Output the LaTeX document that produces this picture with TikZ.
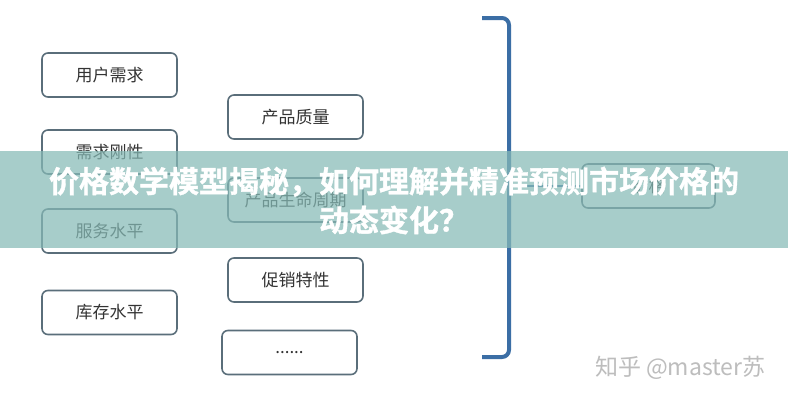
\documentclass[tikz,border=0pt]{standalone}
\usepackage{fontspec}
\newfontfamily\cjk{Noto Sans CJK SC}[BoldFont={Noto Sans CJK SC Bold}]
\newfontfamily\cjkheavy{Noto Sans CJK SC Bold}[FakeBold=1.2]
\definecolor{boxline}{HTML}{5A6E7A}
\definecolor{boxtext}{HTML}{333333}
\definecolor{brk}{HTML}{3B6EA5}
\definecolor{band}{RGB}{134,186,182}
\definecolor{wm}{HTML}{BDBDBD}
\tikzset{
  fbox/.style={draw=boxline, line width=1.6pt, rounded corners=6pt, fill=white,
    minimum width=135pt, minimum height=44pt, inner sep=0pt,
    font=\cjk\fontsize{17}{20}\selectfont, text=boxtext},
  brace/.style={draw=brk, line width=4pt, rounded corners=7pt},
  link/.style={draw=brk, line width=2pt},
  titletext/.style={font=\cjkheavy\fontsize{30}{39}\selectfont, text=white, align=center},
}
\begin{document}
\begin{tikzpicture}[x=1pt,y=-1pt]
\useasboundingbox (0,0) rectangle (788,400);
\fill[white] (0,0) rectangle (788,400);
% left column
\node[fbox] (a1) at (109.5,75) {用户需求};
\node[fbox] (a2) at (109.5,152) {需求刚性};
\node[fbox] (a3) at (109.5,231) {服务水平};
\node[fbox] (a4) at (109.5,312.5) {库存水平};
% middle column
\node[fbox] (b1) at (295.5,117) {产品质量};
\node[fbox] (b2) at (295.5,200) {产品生命周期};
\node[fbox] (b3) at (295.5,280) {促销特性};
\node[fbox] (b4) at (289.5,352.5) {......};
% bracket
\coordinate (bt) at (482,18);
\coordinate (bb) at (482,357);
\draw[brace] (bt) -- (509,18) -- (509,357) -- (bb);
\coordinate (bm) at (509,186);
% right box
\node[fbox, minimum width=133pt] (rb) at (648.5,186) {价格};
\draw[link] (bm) -- (rb.west);
% banner
\fill[band, opacity=0.72] (0,151) rectangle (788,248);
\node[titletext] (title) at (394,200.5) {价格数学模型揭秘，如何理解并精准预测市场价格的\\动态变化？};
% watermark
\node[text=wm, font=\cjk\fontsize{23}{25}\selectfont, anchor=east] (wmk) at (769,368) {知乎 @master苏};
\end{tikzpicture}
\end{document}
